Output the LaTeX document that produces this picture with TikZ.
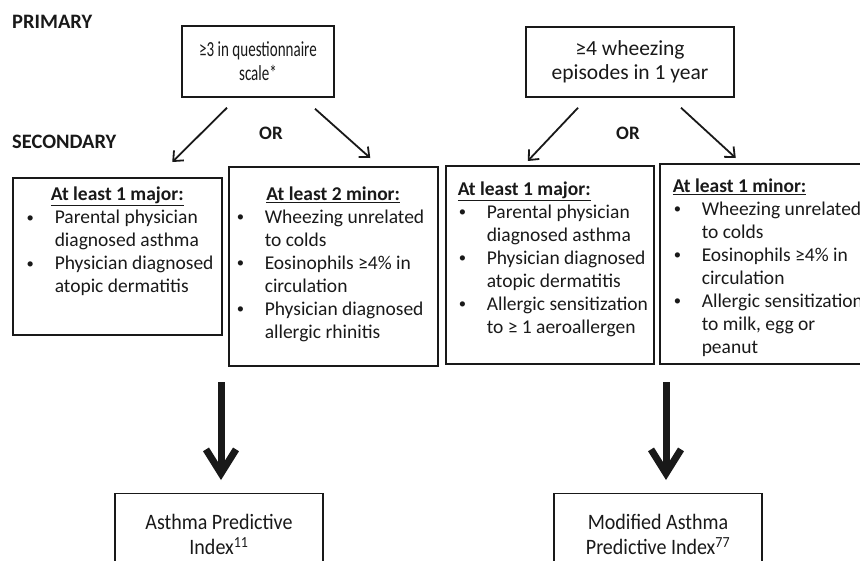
\documentclass[tikz,border=0pt]{standalone}
\usepackage{fontspec}
\setmainfont{Carlito}
\newfontfamily\narrowfont[FakeStretch=0.7]{Carlito}
\newfontfamily\condfont[FakeStretch=0.91]{Carlito}
\usetikzlibrary{arrows.meta}
\definecolor{ink}{RGB}{25, 25, 25}

\newlength\bulw
\setlength\bulw{29pt}
\newcommand\bul[1]{\par\noindent\mbox{\makebox[\bulw][l]{\hspace*{1pt}\raisebox{1.8pt}{\scalebox{0.75}{\textbullet}}}#1}}
\newcommand\cont[1]{\par\noindent\mbox{\hspace*{\bulw}#1}}
\newcommand\hdr[1]{\par\noindent{\bfseries\underline{#1}}}
\newcommand\chdr[1]{\par{\centering\bfseries\underline{#1}\par}}
\newcommand\critpar[3]{\parbox[c][#1][t]{#2}{\fontsize{19.5}{23}\selectfont #3}}

\begin{document}
\begin{tikzpicture}[
        x=1pt, y=-1pt,
        stagelabel/.style={text=ink, font=\bfseries\fontsize{20.5}{24}\selectfont, inner sep=0pt},
        orlabel/.style={text=ink, font=\bfseries\fontsize{19}{22}\selectfont, inner sep=0pt},
        primbox/.style={draw=ink, line width=1.5pt, text=ink, align=center,
            font=\fontsize{21.5}{24}\selectfont},
        critbox/.style={draw=ink, line width=1.5pt, text=ink, anchor=north west},
        endbox/.style={draw=ink, line width=1.3pt, text=ink, anchor=north, align=center,
            minimum width=208pt, minimum height=82pt,
            font=\condfont\fontsize{22}{25}\selectfont},
        thinarrow/.style={draw=ink, line width=1.8pt, -{Straight Barb[length=8pt, width=14pt]}},
        bigarrow/.style={draw=ink, line width=7pt, -{Straight Barb[length=24pt, width=30pt]}}
    ]
    \useasboundingbox (0,0) rectangle (860,560);
    \clip (0,0) rectangle (860,560);

    \node[stagelabel, anchor=west] (primary) at (12,22) {PRIMARY};
    \node[stagelabel, anchor=west] (secondary) at (12,142) {SECONDARY};

    \node[primbox, minimum width=152pt, minimum height=71pt] (quest) at (258,61.5)
        {\narrowfont ≥3 in questionnaire\\\narrowfont scale*};
    \node[primbox, minimum width=208pt, minimum height=70pt] (wheeze) at (630,62)
        {≥4 wheezing\\episodes in 1 year};

    \node[orlabel] (orleft) at (271,133) {OR};
    \node[orlabel] (orright) at (628,133) {OR};

    \node[critbox, inner xsep=13pt, inner ysep=9.5pt] (majorapi) at (12,177)
        {\critpar{138pt}{183pt}{%
            \chdr{At least 1 major:}
            \bul{Parental physician}
            \cont{diagnosed asthma}
            \bul{Physician diagnosed}
            \cont{atopic dermatitis}}};
    \node[critbox, inner xsep=7pt, inner ysep=20pt] (minorapi) at (228,166)
        {\critpar{159pt}{195pt}{%
            \chdr{At least 2 minor:}
            \bul{Wheezing unrelated}
            \cont{to colds}
            \bul{Eosinophils ≥4\% in}
            \cont{circulation}
            \bul{Physician diagnosed}
            \cont{allergic rhinitis}}};
    \node[critbox, inner xsep=12pt, inner ysep=16pt] (majormapi) at (445,165)
        {\critpar{166pt}{184pt}{%
            \hdr{At least 1 major:}
            \bul{Parental physician}
            \cont{diagnosed asthma}
            \bul{Physician diagnosed}
            \cont{atopic dermatitis}
            \bul{Allergic sensitization}
            \cont{to ≥ 1 aeroallergen}}};
    \node[critbox, inner xsep=13pt, inner ysep=15pt] (minormapi) at (659,163)
        {\critpar{170pt}{182pt}{%
            \hdr{At least 1 minor:}
            \bul{Wheezing unrelated}
            \cont{to colds}
            \bul{Eosinophils ≥4\% in}
            \cont{circulation}
            \bul{Allergic sensitization}
            \cont{to milk, egg or}
            \cont{peanut}}};

    \node[endbox] (api) at (219,493) {Asthma Predictive\\Index\textsuperscript{11}};
    \node[endbox] (mapi) at (658,493) {Modified Asthma\\Predictive Index\textsuperscript{77}};

    \draw[thinarrow] ([xshift=-31pt, yshift=-10pt]quest.south) -- ([xshift=55pt, yshift=15pt]majorapi.north);
    \draw[thinarrow] ([xshift=57pt, yshift=-11pt]quest.south) -- ([xshift=37pt, yshift=8pt]minorapi.north);
    \draw[thinarrow] ([xshift=-52pt, yshift=-10pt]wheeze.south) -- ([xshift=-22pt, yshift=4pt]majormapi.north);
    \draw[thinarrow] ([xshift=51pt, yshift=-10pt]wheeze.south) -- ([xshift=-28pt, yshift=5pt]minormapi.north);

    \coordinate (leftdrop) at (221,382);
    \coordinate (rightdrop) at (666,382);
    \draw[bigarrow, shorten >=13pt] (leftdrop) -- (leftdrop |- api.north);
    \draw[bigarrow, shorten >=13pt] (rightdrop) -- (rightdrop |- mapi.north);
\end{tikzpicture}
\end{document}
